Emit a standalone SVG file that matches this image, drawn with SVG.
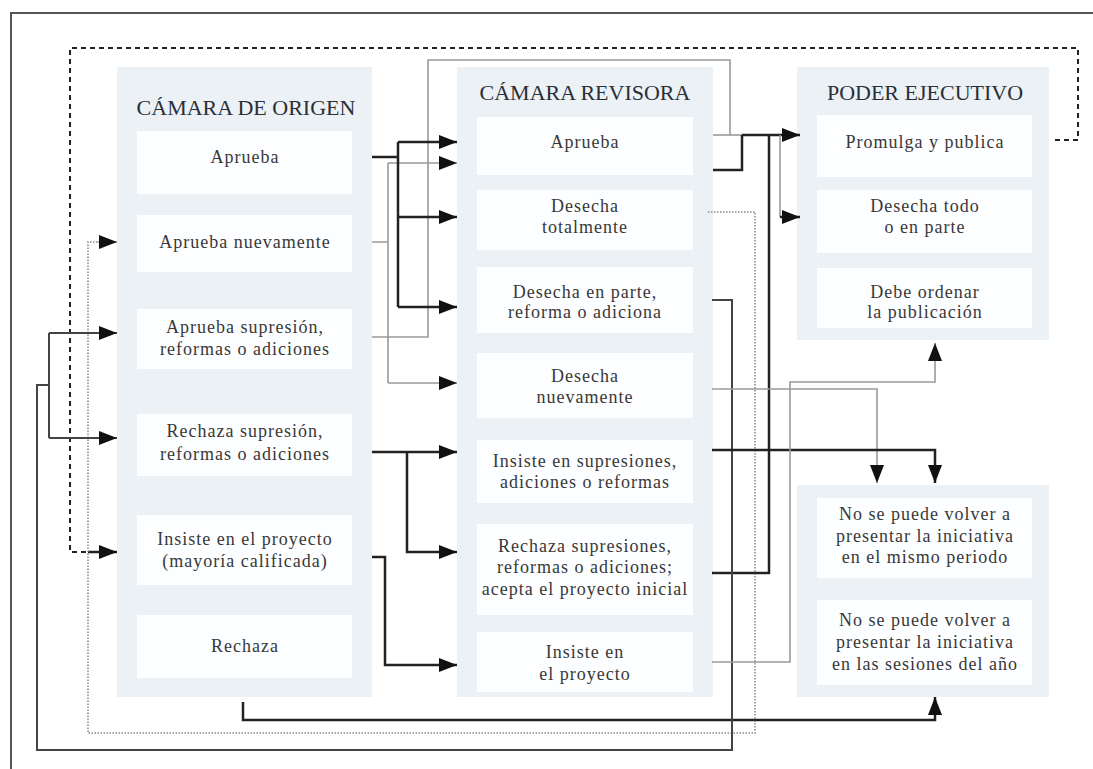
<svg xmlns="http://www.w3.org/2000/svg" width="1093" height="769" viewBox="0 0 1093 769">
<defs>
<style>
.panel{fill:#ecf1f6}
.box{fill:#fdfeff}
.t{font-family:"Liberation Serif","Times New Roman",serif;font-size:18px;letter-spacing:1px;fill:#383838;text-anchor:middle}
.h{font-family:"Liberation Serif","Times New Roman",serif;font-size:22px;fill:#2a2f36;text-anchor:middle}
.blk{fill:none;stroke:#222;stroke-width:2.5}
.dk{fill:none;stroke:#444;stroke-width:2}
.gry{fill:none;stroke:#9a9a9a;stroke-width:1.6}
.dot{fill:none;stroke:#888;stroke-width:1.5;stroke-dasharray:1.5 1.5}
.dash{fill:none;stroke:#222;stroke-width:2;stroke-dasharray:5 4}
</style>
<marker id="ah" markerUnits="userSpaceOnUse" markerWidth="18" markerHeight="14" refX="18" refY="7" orient="auto">
<path d="M0,0 L18,7 L0,14 z" fill="#111"/>
</marker>
</defs>
<rect width="1093" height="769" fill="#ffffff"/>
<path d="M11,769 V13 H1093" fill="none" stroke="#555" stroke-width="2"/>

<g id="panel-origen"><rect class="panel" x="117" y="67" width="255" height="630"/><text class="h" x="246" y="115">CÁMARA DE ORIGEN</text></g>
<g id="panel-revisora"><rect class="panel" x="457" y="67" width="256" height="630"/><text class="h" x="585" y="100">CÁMARA REVISORA</text></g>
<g id="panel-ejecutivo"><rect class="panel" x="797" y="67" width="252" height="273"/><text class="h" x="925" y="100">PODER EJECUTIVO</text></g>
<g id="panel-resultado"><rect class="panel" x="797" y="485" width="252" height="212"/></g>

<g id="o-aprueba"><rect class="box" x="137" y="131" width="215" height="63"/><text class="t" x="245" y="163">Aprueba</text></g>
<g id="o-aprueba-nuevamente"><rect class="box" x="137" y="215" width="215" height="57"/><text class="t" x="245" y="248">Aprueba nuevamente</text></g>
<g id="o-aprueba-supresion"><rect class="box" x="137" y="309" width="215" height="60"/><text class="t" x="245" y="333">Aprueba supresión,</text><text class="t" x="245" y="355">reformas o adiciones</text></g>
<g id="o-rechaza-supresion"><rect class="box" x="137" y="414" width="215" height="62"/><text class="t" x="245" y="437">Rechaza supresión,</text><text class="t" x="245" y="460">reformas o adiciones</text></g>
<g id="o-insiste"><rect class="box" x="137" y="515" width="215" height="70"/><text class="t" x="245" y="545">Insiste en el proyecto</text><text class="t" x="245" y="567">(mayoría calificada)</text></g>
<g id="o-rechaza"><rect class="box" x="137" y="615" width="215" height="63"/><text class="t" x="245" y="652">Rechaza</text></g>

<g id="r-aprueba"><rect class="box" x="477" y="117" width="216" height="58"/><text class="t" x="585" y="148">Aprueba</text></g>
<g id="r-desecha-totalmente"><rect class="box" x="477" y="190" width="216" height="60"/><text class="t" x="585" y="212">Desecha</text><text class="t" x="585" y="233">totalmente</text></g>
<g id="r-desecha-parte"><rect class="box" x="477" y="267" width="216" height="66"/><text class="t" x="585" y="298">Desecha en parte,</text><text class="t" x="585" y="318">reforma o adiciona</text></g>
<g id="r-desecha-nuevamente"><rect class="box" x="477" y="353" width="216" height="65"/><text class="t" x="585" y="382">Desecha</text><text class="t" x="585" y="403">nuevamente</text></g>
<g id="r-insiste-supresiones"><rect class="box" x="477" y="440" width="216" height="63"/><text class="t" x="585" y="467">Insiste en supresiones,</text><text class="t" x="585" y="488">adiciones o reformas</text></g>
<g id="r-rechaza-supresiones"><rect class="box" x="477" y="524" width="216" height="91"/><text class="t" x="585" y="552">Rechaza supresiones,</text><text class="t" x="585" y="573">reformas o adiciones;</text><text class="t" x="585" y="595">acepta el proyecto inicial</text></g>
<g id="r-insiste-proyecto"><rect class="box" x="477" y="632" width="216" height="60"/><text class="t" x="585" y="658">Insiste en</text><text class="t" x="585" y="680">el proyecto</text></g>

<g id="e-promulga"><rect class="box" x="817" y="115" width="215" height="62"/><text class="t" x="925" y="148">Promulga y publica</text></g>
<g id="e-desecha"><rect class="box" x="817" y="190" width="215" height="63"/><text class="t" x="925" y="212">Desecha todo</text><text class="t" x="925" y="233">o en parte</text></g>
<g id="e-debe-ordenar"><rect class="box" x="817" y="268" width="215" height="60"/><text class="t" x="925" y="298">Debe ordenar</text><text class="t" x="925" y="318">la publicación</text></g>
<g id="x-mismo-periodo"><rect class="box" x="817" y="498" width="215" height="80"/><text class="t" x="925" y="520">No se puede volver a</text><text class="t" x="925" y="542">presentar la iniciativa</text><text class="t" x="925" y="563">en el mismo periodo</text></g>
<g id="x-sesiones-ano"><rect class="box" x="817" y="600" width="215" height="85"/><text class="t" x="925" y="626">No se puede volver a</text><text class="t" x="925" y="648">presentar la iniciativa</text><text class="t" x="925" y="670">en las sesiones del año</text></g>

<g id="connectors">
<path class="dash" d="M1055,140 H1078 V48 H70 V552 H88"/>
<path class="blk" stroke-width="0" d="M88,552 H117" marker-end="url(#ah)"/>
<path class="dot" d="M708,212 H755 V733 H88 V242 H98"/>
<path class="gry" stroke-width="0" d="M98,242 H117" marker-end="url(#ah)"/>
<path class="gry" d="M372,242 H388 M388,163 V383"/>
<path class="gry" d="M388,163 H457" marker-end="url(#ah)"/>
<path class="gry" d="M388,383 H457" marker-end="url(#ah)"/>
<path class="gry" d="M372,337 H428 V60 H730 V135"/>
<path class="gry" d="M713,135 H742"/>
<path class="blk" d="M372,157 H398 M398,142 V307"/>
<path class="blk" d="M398,142 H457" marker-end="url(#ah)"/>
<path class="blk" d="M398,217 H457" marker-end="url(#ah)"/>
<path class="blk" d="M398,307 H457" marker-end="url(#ah)"/>
<path class="blk" d="M372,452 H457" marker-end="url(#ah)"/>
<path class="blk" d="M407,452 V552 H457" marker-end="url(#ah)"/>
<path class="blk" d="M372,557 H385 V665 H457" marker-end="url(#ah)"/>
<path class="blk" d="M243,702 V720 H935 V697" marker-end="url(#ah)"/>
<path class="blk" d="M713,170 H742 V135"/>
<path class="blk" d="M742,135 H800" marker-end="url(#ah)"/>
<path class="gry" d="M780,135 V217"/>
<path class="blk" d="M780,217 H800" marker-end="url(#ah)"/>
<path class="blk" d="M712,573 H769 V135"/>
<path class="dk" d="M712,300 H732 V750 H37 V385 H49 M49,333 V438"/>
<path class="dk" d="M49,333 H117" marker-end="url(#ah)"/>
<path class="dk" d="M49,438 H117" marker-end="url(#ah)"/>
<path class="gry" d="M712,389 H877 V483" marker-end="url(#ah)"/>
<path class="blk" d="M712,450 H935 V483" marker-end="url(#ah)"/>
<path class="gry" d="M712,662 H790 V382 H935 V343" marker-end="url(#ah)"/>
</g>
</svg>
